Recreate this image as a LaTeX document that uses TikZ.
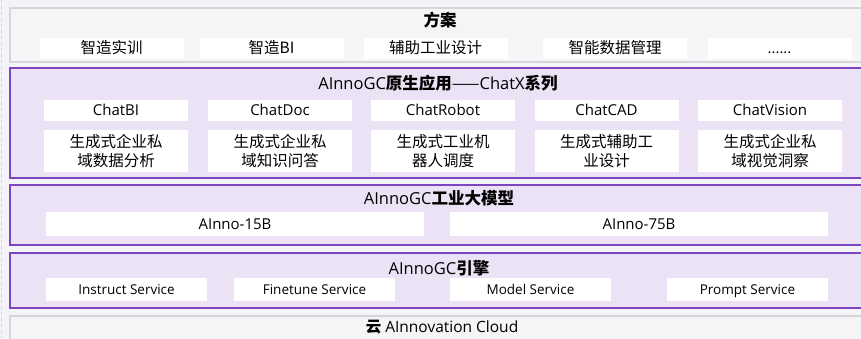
\documentclass[tikz,border=0pt]{standalone}
\usepackage{fontspec}
\setmainfont{Open Sans}
\newfontfamily\zhfont{Noto Sans CJK SC}
\usepackage{tikz}
\definecolor{bgcol}{HTML}{F3F3F8}
\definecolor{greyfill}{HTML}{F5F5F7}
\definecolor{greyline}{HTML}{D6D6D8}
\definecolor{lilac}{HTML}{EBE3F5}
\definecolor{violet}{HTML}{7D45BF}
\definecolor{dashcol}{HTML}{D9C8EF}
\newcommand{\zhb}[1]{{\zhfont\bfseries #1}}

\begin{document}
\begin{tikzpicture}[x=1pt,y=-1pt,
      greyband/.style={rectangle,draw=greyline,fill=greyfill,line width=1.5pt,inner sep=0pt},
      purpleband/.style={rectangle,draw=violet,fill=lilac,line width=2pt,inner sep=0pt},
      bandtitle/.style={font=\fontsize{16.5}{19}\selectfont,inner sep=0pt},
      item/.style={rectangle,fill=white,inner sep=0pt,minimum width=144,minimum height=21,
        text height=12pt,text depth=1.3pt,font=\fontsize{15}{18}\selectfont},
      zhitem/.style={item,font=\zhfont\fontsize{15.5}{18}\selectfont},
      descitem/.style={rectangle,fill=white,inner sep=0pt,minimum width=144,minimum height=42,
        align=center,font=\zhfont\fontsize{15.5}{19}\selectfont},
      modelitem/.style={item,minimum width=378,minimum height=24},
      serviceitem/.style={item,minimum width=161,minimum height=23,text height=11pt,text depth=1.4pt,
        font=\fontsize{13.5}{16}\selectfont}]
    \useasboundingbox (0,0) rectangle (861,338);
    \fill[bgcol] (0,0) rectangle (861,338);
    \coordinate (dashtop) at (1.5,0);
    \coordinate (dashbot) at (1.5,338);
    \draw[dashcol,dashed,line width=1.2pt] (dashtop) -- (dashbot);

    % 方案
    \node[greyband,minimum width=856,minimum height=54] (plan) at (438,35) {};
    \node[bandtitle] (plantitle) at (440,20) {\zhb{方案}};
    \node[zhitem] (plan1) at (111.5,48.5) {智造实训};
    \node[zhitem] (plan2) at (271.5,48.5) {智造BI};
    \node[zhitem] (plan3) at (435.5,48.5) {辅助工业设计};
    \node[zhitem] (plan4) at (615,48.5) {智能数据管理};
    \node[item] (plan5) at (779.5,48.5) {......};

    % ChatX
    \node[purpleband,minimum width=856,minimum height=110] (chatx) at (438,123) {};
    \node[bandtitle] (chatxtitle) at (438,83) {AInnoGC\zhb{原生应用}{\zhfont ——}ChatX\zhb{系列}};
    \node[item] (chat1) at (116,110) {ChatBI};
    \node[item] (chat2) at (280,110) {ChatDoc};
    \node[item] (chat3) at (443,110) {ChatRobot};
    \node[item] (chat4) at (606.5,110) {ChatCAD};
    \node[item] (chat5) at (770,110) {ChatVision};
    \node[descitem] (desc1) at (116,151) {生成式企业私\\域数据分析};
    \node[descitem] (desc2) at (280,151) {生成式企业私\\域知识问答};
    \node[descitem] (desc3) at (443,151) {生成式工业机\\器人调度};
    \node[descitem] (desc4) at (606.5,151) {生成式辅助工\\业设计};
    \node[descitem] (desc5) at (770,151) {生成式企业私\\域视觉洞察};

    % 工业大模型
    \node[purpleband,minimum width=856,minimum height=60] (model) at (438,215) {};
    \node[bandtitle] (modeltitle) at (439,198) {AInnoGC\zhb{工业大模型}};
    \node[modelitem] (model1) at (235,224) {AInno-15B};
    \node[modelitem] (model2) at (639,224) {AInno-75B};

    % 引擎
    \node[purpleband,minimum width=856,minimum height=55] (engine) at (438,280.5) {};
    \node[bandtitle] (enginetitle) at (439,268) {AInnoGC\zhb{引擎}};
    \node[serviceitem] (svc1) at (126.5,289.5) {Instruct Service};
    \node[serviceitem] (svc2) at (314.5,289.5) {Finetune Service};
    \node[serviceitem] (svc3) at (530.5,289.5) {Model Service};
    \node[serviceitem] (svc4) at (747.5,289.5) {Prompt Service};

    % 云
    \node[greyband,minimum width=856,minimum height=30] (cloud) at (438,331) {};
    \node[bandtitle,font=\fontsize{15.5}{18}\selectfont] (cloudtitle) at (442,327) {\zhb{云} AInnovation Cloud};
\end{tikzpicture}
\end{document}
